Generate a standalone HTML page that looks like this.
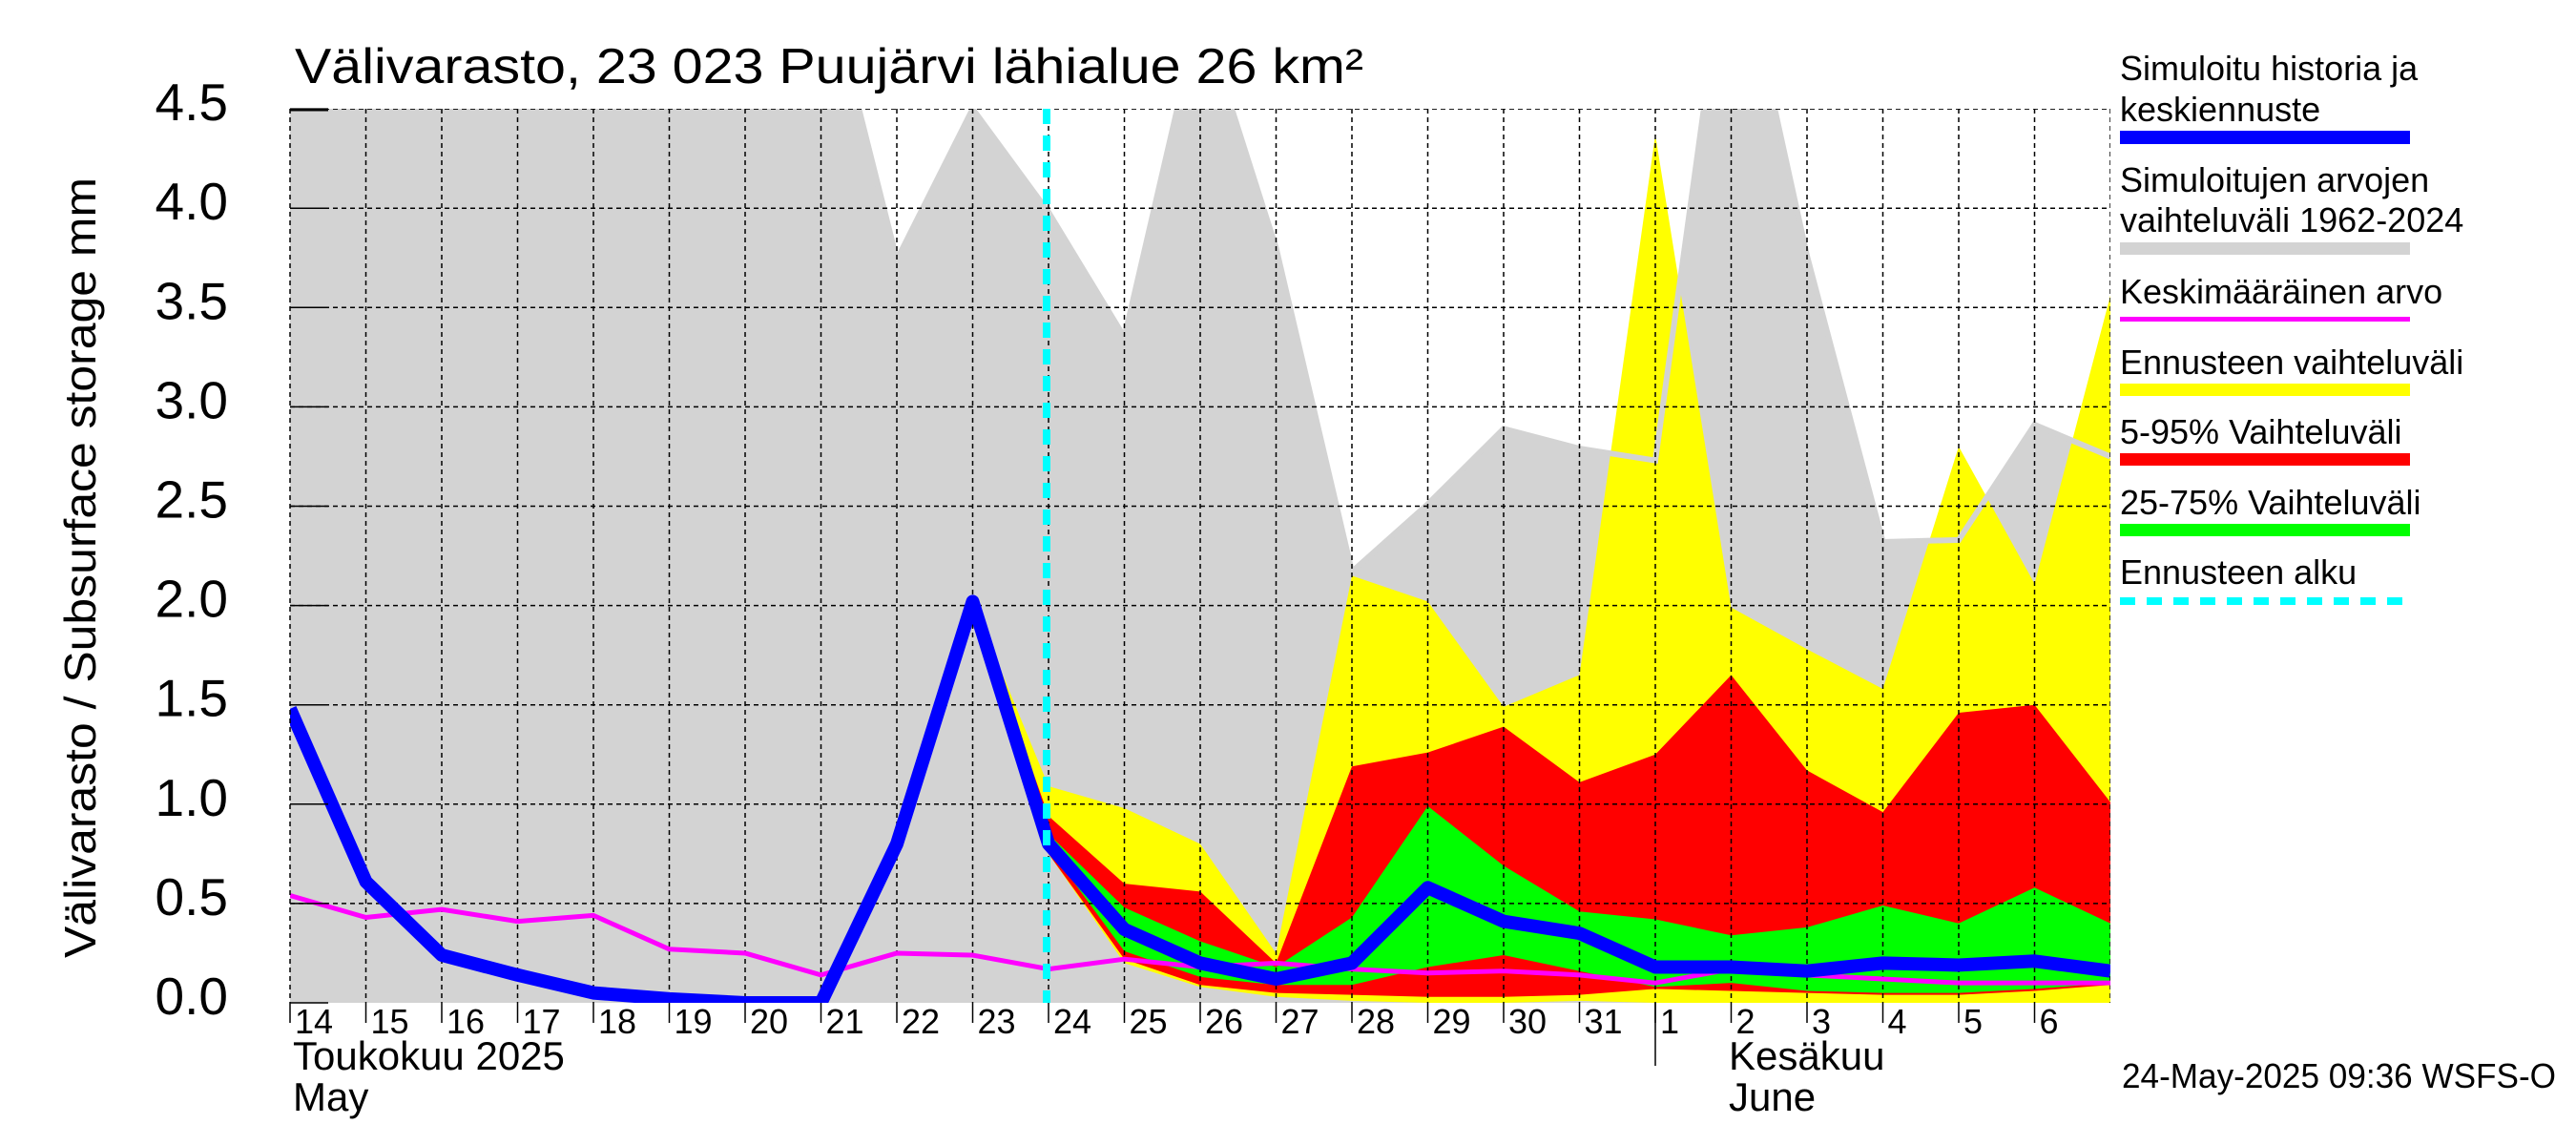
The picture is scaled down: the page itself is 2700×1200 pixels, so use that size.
<!DOCTYPE html>
<html><head><meta charset="utf-8"><style>
html,body{margin:0;padding:0;background:#fff;}
svg{display:block;font-family:"Liberation Sans",Arial,sans-serif;}
</style></head><body>
<svg id="chart" width="2700" height="1200" viewBox="0 0 2700 1200" xmlns="http://www.w3.org/2000/svg">
<defs><clipPath id="plotclip"><rect x="304" y="114" width="1908" height="937"/></clipPath></defs>
<text x="309" y="87" font-size="52" textLength="1120" lengthAdjust="spacingAndGlyphs">Välivarasto, 23 023 Puujärvi lähialue 26 km²</text>
<text transform="translate(100,595) rotate(-90)" text-anchor="middle" font-size="46" textLength="818" lengthAdjust="spacingAndGlyphs">Välivarasto / Subsurface storage  mm</text>
<g id="plot" clip-path="url(#plotclip)"></g>
<g id="axes"></g>
<g id="legend">
 <text x="2222" y="84" font-size="36">Simuloitu historia ja</text>
 <text x="2222" y="127" font-size="36">keskiennuste</text>
 <rect x="2222" y="137" width="304" height="14" fill="#0000ff"/>
 <text x="2222" y="201" font-size="36">Simuloitujen arvojen</text>
 <text x="2222" y="243" font-size="36">vaihteluväli 1962-2024</text>
 <rect x="2222" y="254" width="304" height="13" fill="#d3d3d3"/>
 <text x="2222" y="318" font-size="36">Keskimääräinen arvo</text>
 <rect x="2222" y="332" width="304" height="5" fill="#ff00ff"/>
 <text x="2222" y="392" font-size="36">Ennusteen vaihteluväli</text>
 <rect x="2222" y="402" width="304" height="13" fill="#ffff00"/>
 <text x="2222" y="465" font-size="36">5-95% Vaihteluväli</text>
 <rect x="2222" y="475" width="304" height="13" fill="#ff0000"/>
 <text x="2222" y="539" font-size="36">25-75% Vaihteluväli</text>
 <rect x="2222" y="549" width="304" height="13" fill="#00ff00"/>
 <text x="2222" y="612" font-size="36">Ennusteen alku</text>
 <line x1="2222" y1="630" x2="2526" y2="630" stroke="#00ffff" stroke-width="8" stroke-dasharray="16,12"/>
</g>
<text x="307" y="1121" font-size="42">Toukokuu  2025</text>
<text x="307" y="1164" font-size="42">May</text>
<text x="1812" y="1121" font-size="42">Kesäkuu</text>
<text x="1812" y="1164" font-size="42">June</text>
<line x1="1735" y1="1051" x2="1735" y2="1117" stroke="#000" stroke-width="1.5"/>
<text x="2224" y="1140" font-size="36" textLength="455" lengthAdjust="spacingAndGlyphs">24-May-2025 09:36 WSFS-O</text>
</svg>
<script>
const dayLabels = ["14","15","16","17","18","19","20","21","22","23","24","25","26","27","28","29","30","31","1","2","3","4","5","6"];
const yTicks = [0,0.5,1,1.5,2,2.5,3,3.5,4,4.5];
const yTickLabels = ["0.0","0.5","1.0","1.5","2.0","2.5","3.0","3.5","4.0","4.5"];
const histRangeHi = [6,6,6,6,6,6,6,5.26,3.74,4.5,3.98,3.35,5.0,3.8,2.17,2.51,2.89,2.79,2.73,5.5,3.76,2.32,2.33,2.91,2.75];
const simulated = [1.48,0.61,0.24,0.14,0.05,0.02,0,0,0.8,2.02,0.8,0.37,0.2,0.12,0.2,0.58,0.41,0.35,0.18,0.18,0.16,0.2,0.19,0.21,0.16];
const meanValue = [0.54,0.43,0.47,0.41,0.44,0.27,0.25,0.14,0.25,0.24,0.17,0.22,0.18,0.2,0.17,0.15,0.16,0.14,0.1,0.17,0.14,0.12,0.1,0.1,0.1];
const forecastStartIndex = 9;
const yellowHi = [2.02,1.09,0.98,0.8,0.25,2.15,2.02,1.49,1.65,4.37,1.99,1.78,1.58,2.8,2.11,3.56];
const yellowLo = [2.02,0.75,0.2,0.08,0.03,0.01,0,0,0.01,0,0,0,0,0,0,0];
const redHi = [2.02,0.94,0.6,0.56,0.2,1.19,1.26,1.39,1.11,1.25,1.65,1.17,0.96,1.46,1.5,1.01];
const redLo = [2.02,0.75,0.22,0.09,0.05,0.04,0.03,0.03,0.04,0.07,0.06,0.05,0.04,0.04,0.06,0.09];
const greenHi = [2.02,0.85,0.48,0.31,0.18,0.43,0.99,0.69,0.46,0.42,0.34,0.38,0.49,0.4,0.58,0.4];
const greenLo = [2.02,0.78,0.26,0.13,0.09,0.09,0.18,0.24,0.16,0.08,0.1,0.06,0.05,0.05,0.07,0.1];
const forecastDay = 10;

const NS = "http://www.w3.org/2000/svg";
const X0 = 304, DX = 79.5, Y0 = 1051, DY = 208.2;
function X(i){ return X0 + i*DX; }
function Y(v){ return Y0 - v*DY; }
const plot = document.getElementById('plot');
const axes = document.getElementById('axes');
function mk(tag, attrs, parent){ const e = document.createElementNS(NS, tag); for (const k in attrs) e.setAttribute(k, attrs[k]); parent.appendChild(e); return e; }
function band(hi, lo, off){
  let pts = [];
  for (let i=0;i<hi.length;i++) pts.push(X(i+off)+","+Y(hi[i]));
  for (let i=lo.length-1;i>=0;i--) pts.push(X(i+off)+","+Y(lo[i]));
  return pts.join(" ");
}
function line(vals, off){ return vals.map((v,i)=>X(i+off)+","+Y(v)).join(" "); }

const zeros = histRangeHi.map(()=>0);
let g = mk('polygon',{points:band(histRangeHi,zeros,0),fill:'#d3d3d3'},plot);


let yb = mk('polygon',{points:band(yellowHi,yellowLo,forecastStartIndex),fill:'#ffff00'},plot);


let rb = mk('polygon',{points:band(redHi,redLo,forecastStartIndex),fill:'#ff0000'},plot);


let gb = mk('polygon',{points:band(greenHi,greenLo,forecastStartIndex),fill:'#00ff00'},plot);


let gl = mk('polyline',{points:line(histRangeHi,0),fill:'none',stroke:'#d3d3d3','stroke-width':6},plot);



for (let i=1;i<dayLabels.length+1;i++){
  const l = mk('line',{x1:X(i),y1:114,x2:X(i),y2:1051,stroke:'#000','stroke-width':1.5,'stroke-dasharray':'5,4'},plot);
  
  
}
for (let j=1;j<yTicks.length;j++){
  const l = mk('line',{x1:304,y1:Y(yTicks[j]),x2:2212,y2:Y(yTicks[j]),stroke:'#000','stroke-width':1.5,'stroke-dasharray':'5,4'},plot);
  
  
}

let ml = mk('polyline',{points:line(meanValue,0),fill:'none',stroke:'#ff00ff','stroke-width':5,'stroke-linejoin':'round'},plot);


let bl = mk('polyline',{points:line(simulated,0),fill:'none',stroke:'#0000ff','stroke-width':14,'stroke-linejoin':'round'},plot);


let cl = mk('line',{x1:X(forecastDay)-2,y1:114,x2:X(forecastDay)-2,y2:1051,stroke:'#00ffff','stroke-width':8,'stroke-dasharray':'16,12'},plot);



let la = mk('line',{x1:304,y1:114,x2:304,y2:1051,stroke:'#000','stroke-width':1.5,'stroke-dasharray':'5,4'},axes);


let tl = mk('line',{x1:304,y1:115,x2:344,y2:115,stroke:'#000','stroke-width':3},axes);


for (let j=0;j<yTicks.length;j++){
  const t = mk('text',{x:239,y:Y(yTicks[j])+12,'font-size':55,'text-anchor':'end'},axes);
  t.textContent = yTickLabels[j];
  
  
  const tk = mk('line',{x1:304,y1:Y(yTicks[j]),x2:344,y2:Y(yTicks[j]),stroke:'#000','stroke-width':1.5},axes);
  
  
}
for (let i=0;i<dayLabels.length;i++){
  const tk = mk('line',{x1:X(i),y1:1051,x2:X(i),y2:1072,stroke:'#000','stroke-width':1.5},axes);
  
  
  const t = mk('text',{x:X(i)+5,y:1083,'font-size':36},axes);
  t.textContent = dayLabels[i];
  
  
}
</script>
</body></html>
